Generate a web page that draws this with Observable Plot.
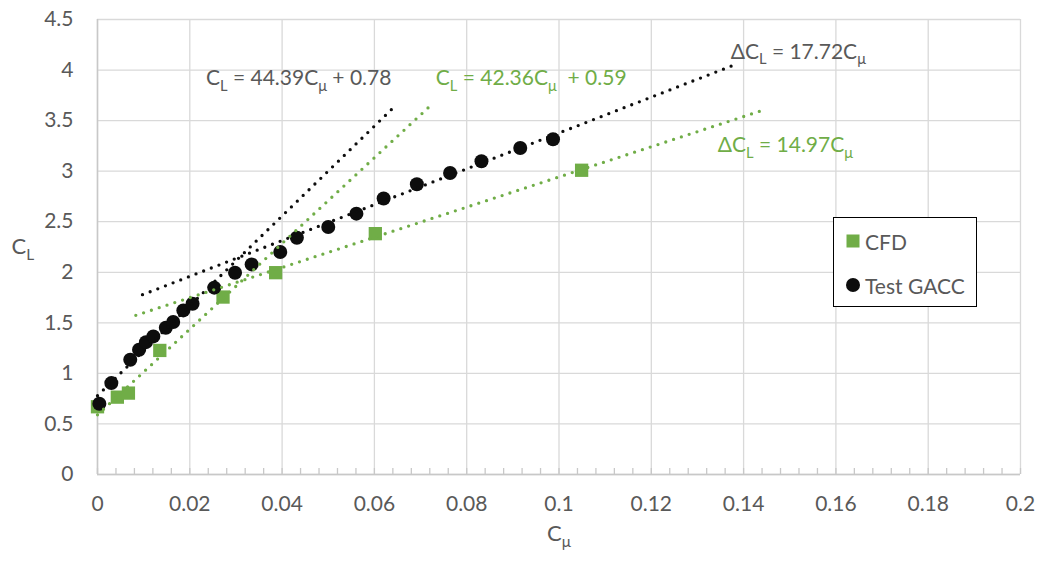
<!DOCTYPE html>
<html><head><meta charset="utf-8">
<script src="https://cdn.jsdelivr.net/npm/d3@7"></script>
<script src="https://cdn.jsdelivr.net/npm/@observablehq/plot@0.6"></script>
<style>
body{margin:0;background:#fff;}
#wrap{position:relative;width:1043px;height:563px;font-family:Lato,"Open Sans",sans-serif;color:#595959;}
#legend{position:absolute;left:833px;top:217px;width:142px;height:88px;border:1.5px solid #000;background:#fff;box-sizing:content-box;}
.li{position:absolute;left:0;height:28px;display:flex;align-items:center;font-size:21px;color:#595959;white-space:nowrap;}
.li svg{margin-left:12px;margin-right:5px;}
</style>
</head><body>
<div id="wrap"><div id="chart"></div><div id="legend"></div></div>
<script>
// ---- data ----
const seriesNames = ["CFD", "Test GACC"];
const cfdX = [0, 0.0043, 0.0067, 0.0135, 0.0272, 0.0386, 0.0602, 0.1049];
const cfdY = [0.67, 0.765, 0.805, 1.227, 1.755, 1.996, 2.382, 3.009];
const gaccX = [0.0004, 0.003, 0.0071, 0.009, 0.0105, 0.0121, 0.0148, 0.0164, 0.0186, 0.0206, 0.0253, 0.0298, 0.0334, 0.0396, 0.0432, 0.05, 0.0561, 0.062, 0.0692, 0.0764, 0.0832, 0.0916, 0.0987];
const gaccY = [0.70, 0.904, 1.135, 1.234, 1.309, 1.366, 1.452, 1.508, 1.623, 1.689, 1.848, 1.996, 2.078, 2.200, 2.341, 2.448, 2.580, 2.729, 2.870, 2.982, 3.098, 3.229, 3.316];
// trend lines (endpoints)
const trendSeries = ["Test GACC", "CFD", "Test GACC", "CFD"];
const trendX1 = [0, 0, 0.00975, 0.0083];
const trendY1 = [0.78, 0.59, 1.778, 1.574];
const trendX2 = [0.0646, 0.0722, 0.1385, 0.1448];
const trendY2 = [3.65, 3.65, 4.06, 3.612];
// annotations
const annoText = ["C_L = 44.39C_μ + 0.78", "C_L = 42.36C_μ  + 0.59", "ΔC_L = 17.72C_μ", "ΔC_L = 14.97C_μ"];
const annoSeries = ["Test GACC", "CFD", "Test GACC", "CFD"];
const annoX = [0.0235, 0.0733, 0.1372, 0.1344];
const annoY = [3.92, 3.92, 4.18, 3.256];
// axes
const xTicks = [0, 0.02, 0.04, 0.06, 0.08, 0.1, 0.12, 0.14, 0.16, 0.18, 0.2];
const yTicks = [0, 0.5, 1, 1.5, 2, 2.5, 3, 3.5, 4, 4.5];
const xTitle = "C_μ";
const yTitle = "C_L";

// ---- build ----
const colorOf = s => s === "CFD" ? "#70AD47" : "#0d0d0d";
const textColorOf = s => s === "CFD" ? "#70AD47" : "#595959";
const cfd = cfdX.map((x, i) => ({x, y: cfdY[i]}));
const gacc = gaccX.map((x, i) => ({x, y: gaccY[i]}));
const trends = trendSeries.map((s, i) => ({s, x1: trendX1[i], y1: trendY1[i], x2: trendX2[i], y2: trendY2[i]}));
const annos = annoText.map((t, i) => ({t, s: annoSeries[i], x: annoX[i], y: annoY[i]}));
const minor = Array.from({length: 51}, (_, i) => i * 0.004);

const chart = Plot.plot({
  width: 1043, height: 563,
  marginLeft: 97, marginRight: 23, marginTop: 19, marginBottom: 89,
  style: {fontFamily: "Lato, 'Open Sans', sans-serif", fontSize: "21px", color: "#595959", background: "transparent"},
  x: {domain: [0, 0.2], label: null},
  y: {domain: [0, 4.5], label: null},
  marks: [
    Plot.gridX(xTicks, {stroke: "#d9d9d9", strokeOpacity: 1, strokeWidth: 1.3}),
    Plot.gridY(yTicks, {stroke: "#d9d9d9", strokeOpacity: 1, strokeWidth: 1.3}),
    Plot.ruleY([0], {stroke: "#c8c8c8", strokeWidth: 1.5}),
    Plot.ruleX([0], {stroke: "#c8c8c8", strokeWidth: 1.5}),
    Plot.ruleX(minor, {x: d => d, y1: 0, y2: 0, insetTop: -6, stroke: "#c8c8c8", strokeWidth: 1.3}),
    Plot.axisX(xTicks, {tickSize: 0, tickPadding: 22, tickFormat: d => String(d), fill: "#595959", label: null, fontSize: 21}),
    Plot.axisY(yTicks, {tickSize: 0, tickPadding: 24, tickFormat: d => String(d), fill: "#595959", label: null, fontSize: 21}),
    Plot.dot(cfd, {x: "x", y: "y", symbol: "square", r: 7.5, fill: colorOf("CFD"), stroke: "none"}),
    Plot.dot(gacc, {x: "x", y: "y", r: 7, fill: colorOf("Test GACC"), stroke: "none"}),
    Plot.link(trends, {x1: "x1", y1: "y1", x2: "x2", y2: "y2", stroke: d => colorOf(d.s), strokeWidth: 3.3, strokeDasharray: "0,8.2", strokeLinecap: "round"}),
    Plot.text(annos, {x: "x", y: "y", text: "t", fill: d => textColorOf(d.s), textAnchor: "start", fontSize: 21}),
    Plot.text([yTitle], {frameAnchor: "left", dx: -86, textAnchor: "start", fontSize: 22, fill: "#595959"}),
    Plot.text([xTitle], {frameAnchor: "bottom", dy: 66, fontSize: 22, fill: "#595959"})
  ]
});

// subscripts
const ns = "http://www.w3.org/2000/svg";
chart.querySelectorAll("text").forEach(t => {
  const s = t.textContent;
  if (!s.includes("_")) return;
  const fs = parseFloat(t.getAttribute("font-size") || t.parentNode.getAttribute("font-size") || 21);
  const shift = fs * 0.28;
  const parts = s.split(/_(.)/);
  t.textContent = "";
  t.setAttribute("style", "white-space:pre");
  parts.forEach((p, i) => {
    if (p === "" && i % 2 === 0 && i > 0 && i === parts.length - 1) return;
    const ts = document.createElementNS(ns, "tspan");
    ts.textContent = p;
    if (i % 2 === 1) { ts.setAttribute("font-size", (fs * 0.7).toFixed(1)); ts.setAttribute("dy", shift.toFixed(1)); }
    else if (i > 0) ts.setAttribute("dy", (-shift).toFixed(1));
    t.appendChild(ts);
  });
});
document.getElementById("chart").appendChild(chart);

// legend
const leg = document.getElementById("legend");
seriesNames.forEach((name, i) => {
  const row = document.createElement("div");
  row.className = "li";
  row.style.top = (i === 0 ? 9 : 53) + "px";
  const sym = name === "CFD"
    ? `<svg width="14" height="14"><rect x="0.5" y="0.5" width="13" height="13" fill="${colorOf(name)}"/></svg>`
    : `<svg width="14" height="14"><circle cx="7" cy="7" r="7" fill="${colorOf(name)}"/></svg>`;
  row.innerHTML = sym + `<span>${name}</span>`;
  leg.appendChild(row);
});
</script>
</body></html>
